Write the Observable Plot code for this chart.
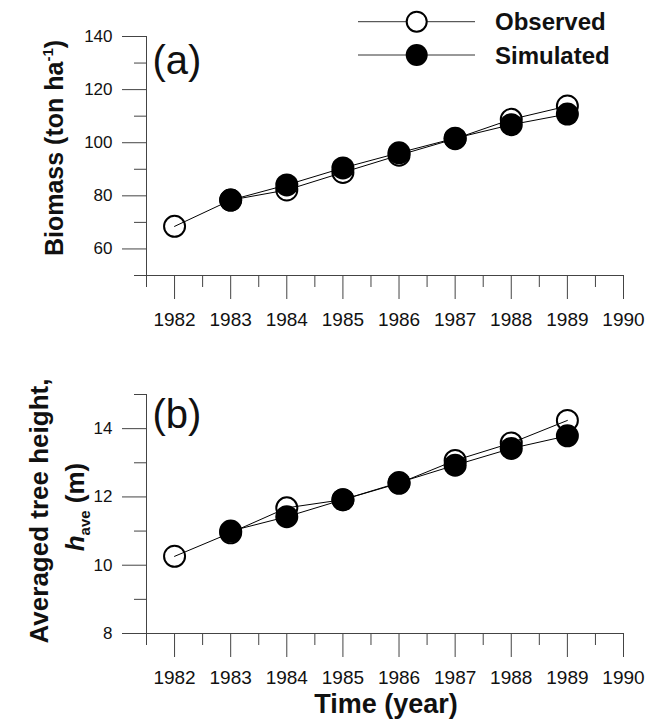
<!DOCTYPE html>
<html><head><meta charset="utf-8">
<script src="https://cdn.jsdelivr.net/npm/d3@7"></script>
<script src="https://cdn.jsdelivr.net/npm/@observablehq/plot@0.6"></script>
<style>
body{margin:0;background:#fff;}
#wrap{position:relative;width:646px;height:721px;font-family:"Liberation Sans",Arial,sans-serif;}
#wrap > svg{position:absolute;left:0;}
</style></head><body><div id="wrap"></div>
<script>
// ---- data ----
const obsYears = [1982, 1983, 1984, 1985, 1986, 1987, 1988, 1989];
const simYears = [1983, 1984, 1985, 1986, 1987, 1988, 1989];
const biomassObserved = [68.5, 78.4, 82.2, 88.8, 95.3, 101.5, 108.8, 113.8];
const biomassSimulated = [78.4, 84.1, 90.5, 96.2, 101.7, 106.8, 110.8];
const heightObserved = [10.26, 10.95, 11.68, 11.92, 12.40, 13.07, 13.58, 14.24];
const heightSimulated = [11.0, 11.42, 11.92, 12.42, 12.93, 13.42, 13.79];
const xTicks = [1982, 1983, 1984, 1985, 1986, 1987, 1988, 1989, 1990];
const xMinorTicks = [1981.5, 1982.5, 1983.5, 1984.5, 1985.5, 1986.5, 1987.5, 1988.5, 1989.5];
const biomassTicks = [60, 80, 100, 120, 140];
const biomassMinorTicks = [50, 70, 90, 110, 130];
const heightTicks = [8, 10, 12, 14];
const heightMinorTicks = [9, 11, 13, 15];
const seriesNames = ["Observed", "Simulated"];

const FONT = "'Liberation Sans', Arial, sans-serif";
const AX = "#444";

function pairs(xs, ys) { return xs.map((x, i) => ({x, y: ys[i]})); }

function panel({obs, sim, yDomain, ticks, minor, label, height, mTop, mBottom, labelDy}) {
  const o = pairs(obsYears, obs), s = pairs(simYears, sim);
  return Plot.plot({
    width: 646, height,
    marginLeft: 146, marginRight: 23, marginTop: mTop, marginBottom: mBottom,
    style: {fontFamily: FONT, background: "white", color: "#111", overflow: "visible"},
    x: {domain: [1981.5, 1990]},
    y: {domain: yDomain},
    marks: [
      Plot.axisX(xTicks, {tickSize: 24, tickPadding: 13, tickFormat: d => String(d), fontSize: 19, stroke: AX, fill: "#111", label: null}),
      Plot.axisX(xMinorTicks, {tickSize: 12, tickFormat: () => "", stroke: AX, label: null}),
      Plot.axisY(ticks, {tickSize: 24, tickPadding: 10, fontSize: 17, stroke: AX, fill: "#111", label: null}),
      Plot.axisY(minor, {tickSize: 12, tickFormat: () => "", stroke: AX, label: null}),
      Plot.ruleX([1981.5], {stroke: AX}),
      Plot.ruleY([yDomain[0]], {stroke: AX}),
      Plot.text([label], {frameAnchor: "top-left", dx: 6, dy: labelDy, fontSize: 40, textAnchor: "start", lineAnchor: "top", fill: "#111"}),
      Plot.dot(o, {x: "x", y: "y", r: 10.5, fill: "white", stroke: "black", strokeWidth: 2}),
      Plot.dot(s, {x: "x", y: "y", r: 11.5, fill: "black"}),
      Plot.line(o, {x: "x", y: "y", stroke: "black", strokeWidth: 1}),
      Plot.line(s, {x: "x", y: "y", stroke: "black", strokeWidth: 1})
    ]
  });
}

const wrap = document.getElementById("wrap");

const pa = panel({obs: biomassObserved, sim: biomassSimulated, yDomain: [50, 140], ticks: biomassTicks, minor: biomassMinorTicks,
  label: "(a)", height: 340, mTop: 36, mBottom: 65, labelDy: 9});
pa.style.top = "0px";
wrap.appendChild(pa);

const pb = panel({obs: heightObserved, sim: heightSimulated, yDomain: [8, 15], ticks: heightTicks, minor: heightMinorTicks,
  label: "(b)", height: 381, mTop: 54, mBottom: 88, labelDy: 5});
pb.style.top = "340px";
wrap.appendChild(pb);

// axis titles
const sa = d3.select(pa);
const ta = sa.append("text").attr("transform", "translate(63,148) rotate(-90)")
  .attr("text-anchor", "middle").attr("font-family", FONT).attr("font-weight", "bold").attr("font-size", 25).attr("fill", "#111");
ta.append("tspan").text("Biomass (ton ha");
ta.append("tspan").attr("font-size", 15).attr("dy", -10).text("-1");
ta.append("tspan").attr("dy", 10).text(")");

const sb = d3.select(pb);
sb.append("text").attr("transform", "translate(48,171) rotate(-90)")
  .attr("text-anchor", "middle").attr("font-family", FONT).attr("font-weight", "bold").attr("font-size", 26).attr("fill", "#111")
  .text("Averaged tree height,");
const tb2 = sb.append("text").attr("transform", "translate(84,167) rotate(-90)")
  .attr("text-anchor", "middle").attr("font-family", FONT).attr("font-weight", "bold").attr("font-size", 26).attr("fill", "#111");
tb2.append("tspan").attr("font-style", "italic").text("h");
tb2.append("tspan").attr("font-size", 15).attr("dy", 6).text("ave");
tb2.append("tspan").attr("dy", -6).text(" (m)");

sb.append("text").attr("x", 386).attr("y", 373).attr("text-anchor", "middle")
  .attr("font-family", FONT).attr("font-weight", "bold").attr("font-size", 27).attr("fill", "#111")
  .text("Time (year)");

// legend
const leg = d3.select(wrap).append("svg").attr("width", 646).attr("height", 80).style("top", "0px");
seriesNames.forEach((name, i) => {
  const cy = i === 0 ? 21.7 : 55;
  const g = leg.append("g");
  g.append("line").attr("x1", 358).attr("x2", 475).attr("y1", cy).attr("y2", cy).attr("stroke", "#333").attr("stroke-width", 1);
  if (i === 0) g.append("circle").attr("cx", 416.7).attr("cy", cy).attr("r", 10).attr("fill", "white").attr("stroke", "black").attr("stroke-width", 2);
  else g.append("circle").attr("cx", 416.7).attr("cy", cy).attr("r", 11).attr("fill", "black");
  g.append("text").attr("x", 495).attr("y", cy + 8.5).attr("font-family", FONT).attr("font-weight", "bold").attr("font-size", 24).attr("fill", "#111").text(name);
});
</script></body></html>
